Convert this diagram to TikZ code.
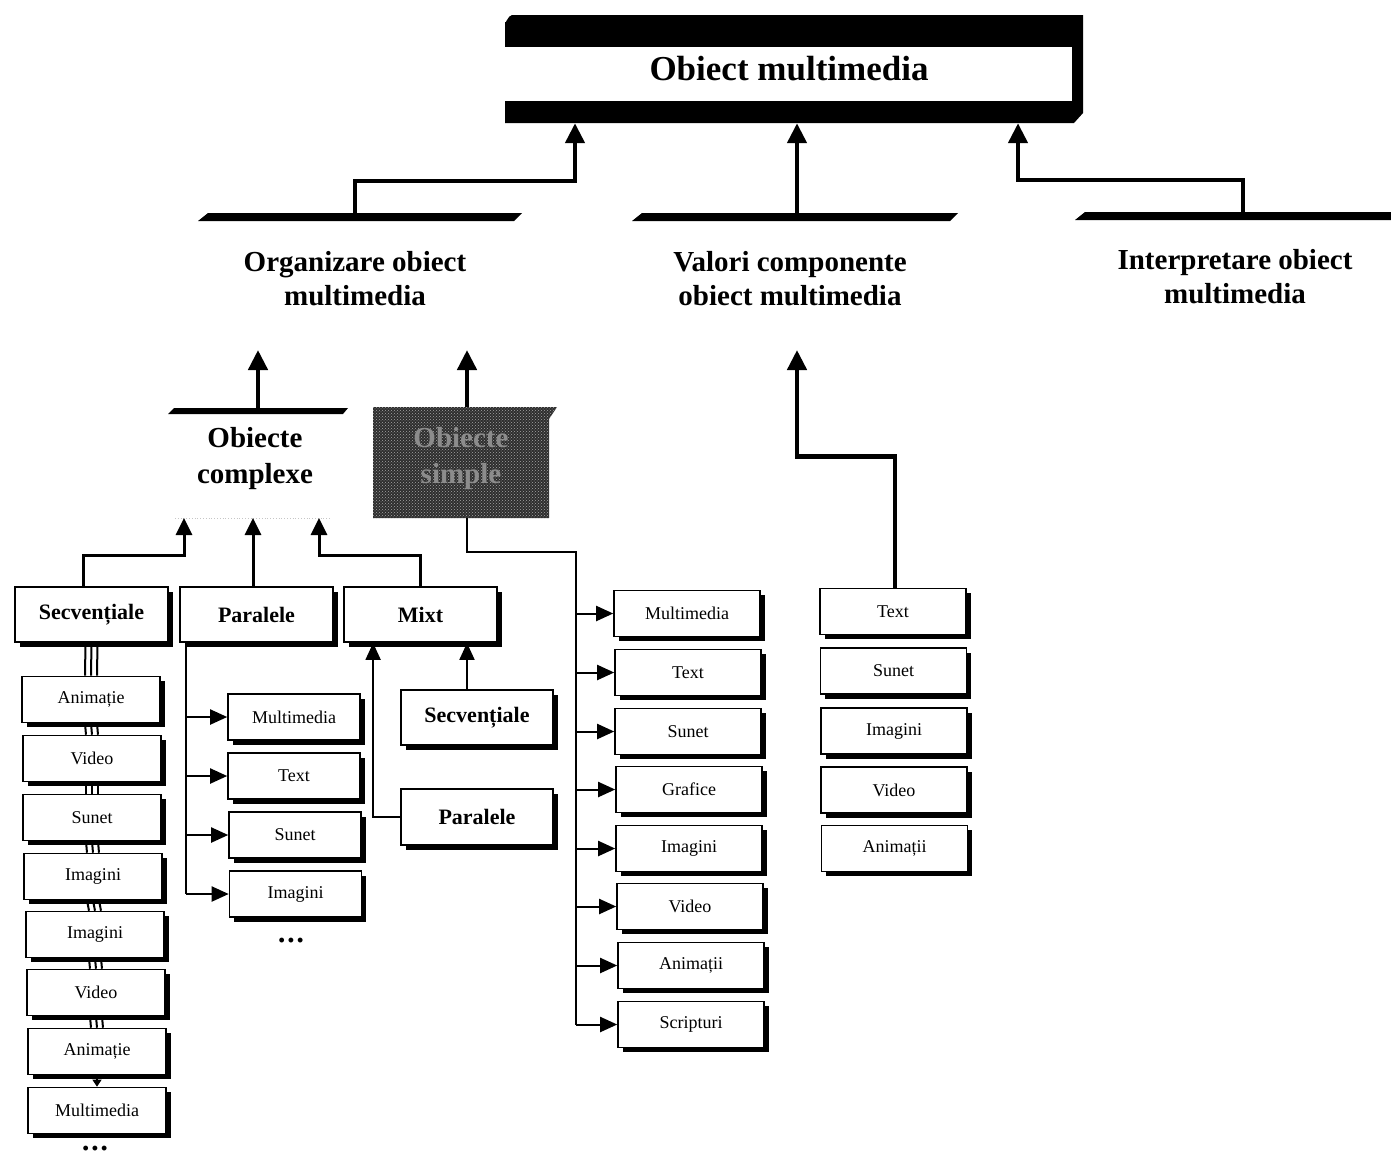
\documentclass[tikz,border=0pt]{standalone}
\usepackage{fontspec}
\setmainfont{Liberation Serif}
\usetikzlibrary{arrows.meta,shadows,patterns}
\begin{document}
\begin{tikzpicture}[x=1pt,y=-1pt,
  every node/.style={inner sep=0pt},
  shad/.style={drop shadow={shadow xshift=4.5pt,shadow yshift=-4.5pt,fill=black,opacity=1}},
  hdr/.style={font=\bfseries\fontsize{29}{34}\selectfont,align=center},
  lvl/.style={draw,line width=1.8pt,fill=white,minimum width=153pt,minimum height=55pt,
    font=\bfseries\fontsize{22}{24}\selectfont,shad},
  item/.style={draw,line width=1.6pt,fill=white,minimum width=#1,minimum height=46pt,
    font=\fontsize{18}{20}\selectfont,shad},
  item/.default=140pt,
  bigarr/.style={line width=4.5pt,-{Triangle[length=20pt,width=19pt]}},
  midarr/.style={line width=3pt,-{Triangle[length=17pt,width=16pt]}},
  smlarr/.style={line width=2pt,-{Triangle[length=17pt,width=15pt]}},
  wire/.style={line width=2pt},
  bar/.style={fill=black},
  dots/.style={font=\bfseries\fontsize{18}{18}\selectfont}
]
\useasboundingbox (0,0) rectangle (1391,1162);

% ---- root box: black bands with an open left side ----
\fill (505,22) to[out=-90,in=180] (512,15) -- (1083,15) -- (1083,113) -- (1074,123) -- (505,123) -- cycle;
\fill[white] (505,47) rectangle (1072,101);
\node[minimum width=578pt,minimum height=108pt] (omb) at (794,69) {};
\node[font=\bfseries\fontsize{35}{40}\selectfont] (om) at (789,69) {Obiect multimedia};

% ---- second level headings with their bars ----
\fill[bar] (198,221) -- (208,213) -- (522,213) -- (514,221) -- cycle;
\fill[bar] (632,221) -- (642,213) -- (958,213) -- (950,221) -- cycle;
\fill[bar] (1075,220) -- (1085,212) -- (1391,212) -- (1391,220) -- cycle;
\coordinate (orgTop) at (355,213);
\coordinate (valTop) at (797,213);
\coordinate (intTop) at (1243,212);
\node[hdr] (org) at (355,279) {Organizare obiect\\multimedia};
\node[hdr] (val) at (790,279) {Valori componente\\obiect multimedia};
\node[hdr] (int) at (1235,277) {Interpretare obiect\\multimedia};

\draw[bigarr] (orgTop) -- ++(0,-32) -| ([xshift=-219pt]omb.south);
\draw[bigarr] (valTop) -- ([xshift=3pt]omb.south);
\draw[bigarr] (intTop) -- ++(0,-32) -| ([xshift=224pt]omb.south);

% ---- complex / simple objects ----
\fill[bar] (168,414) -- (174,408) -- (348,408) -- (343,414) -- cycle;
\draw[gray!45,line width=0.8pt,dotted] (175,518) -- (330,518);
\node[font=\bfseries\fontsize{29}{36}\selectfont,align=center] (cpx) at (255,459) {Obiecte\\complexe};
\coordinate (cpxTop) at (258,410);

\fill[black!82] (373,407) -- (557,407) -- (549,419) -- (549,518) -- (373,518) -- cycle;
\fill[pattern=crosshatch dots,pattern color=gray!70] (373,407) -- (557,407) -- (549,419) -- (549,518) -- (373,518) -- cycle;
\node[font=\bfseries\fontsize{29}{36}\selectfont,align=center,text=black!45] (sim) at (461,459) {Obiecte\\simple};
\coordinate (simTop) at (467,407);
\coordinate (simBot) at (467,518);

\coordinate (orgInA) at (258,350);
\coordinate (orgInB) at (467,350);
\coordinate (valIn) at (797,350);
\draw[bigarr] (cpxTop) -- (orgInA);
\draw[bigarr] (simTop) -- (orgInB);

% ---- kinds of complex objects ----
\node[lvl] (sec) at (91.5,614.5) {Secvențiale};
\node[lvl] (par) at (256.5,614.5) {Paralele};
\node[lvl] (mix) at (420.5,614.5) {Mixt};

\coordinate (cpxIn1) at (184,518);
\coordinate (cpxIn2) at (253,518);
\coordinate (cpxIn3) at (319,518);
\draw[midarr] ([xshift=-8pt]sec.north) -- ++(0,-31) -| (cpxIn1);
\draw[midarr] (cpxIn2 |- par.north) -- (cpxIn2);
\draw[midarr] (mix.north) -- ++(0,-31) -| (cpxIn3);

% ---- sequential chain ----
\node[item=138pt] (a1) at (91,699.5) {Animație};
\node[item=138pt] (v1) at (92,758.5) {Video};
\node[item=138pt] (s1) at (92,817.5) {Sunet};
\node[item=138pt] (i1) at (93,876.5) {Imagini};
\node[item=138pt] (i2) at (95,934.5) {Imagini};
\node[item=138pt] (v2) at (96,992.5) {Video};
\node[item=138pt] (a2) at (97,1051.5) {Animație};
\node[item=138pt] (m1) at (97,1110.5) {Multimedia};
\node[dots] (sdots) at (95,1150) {•\,•\,•};

\foreach \d in {-6,0,6}
  \draw[line width=2pt] ([xshift=\d pt]sec.south) -- ([xshift=\d pt]a1.north);
\foreach \u/\w in {a1/v1,v1/s1,s1/i1,i1/i2,i2/v2,v2/a2}
  \foreach \d in {-6,0,6}
    \draw[line width=2pt] ([xshift=\d pt]\u.south) -- ([xshift=\d pt]\w.north);
\draw[line width=1.2pt,-{Triangle[length=7pt,width=9pt]}] (a2.south) -- (m1.north);

% ---- parallel branch ----
\node[item=132pt] (pm) at (294,717) {Multimedia};
\node[item=132pt] (pt) at (294,776) {Text};
\node[item=132pt] (ps) at (295,835) {Sunet};
\node[item=132pt] (pi) at (295.5,894) {Imagini};
\node[dots] (pdots) at (291,942) {•\,•\,•};
\coordinate (pl) at ([xshift=7pt]par.south west);
\draw[wire] (pl) -- (pl |- pi.west);
\foreach \n in {pm,pt,ps,pi}
  \draw[smlarr] (pl |- \n.west) -- (\n.west);

% ---- mixed branch ----
\node[lvl,minimum width=152pt] (ms) at (477,717.5) {Secvențiale};
\node[lvl,minimum width=152pt,minimum height=56pt] (mp) at (477,817) {Paralele};
\coordinate (msT) at ([xshift=-10pt]ms.north);
\draw[smlarr] (msT) -- (msT |- mix.south);
\coordinate (mxL) at ([xshift=30pt]mix.south west);
\draw[smlarr] (mp.west) -| (mxL);

% ---- simple objects ----
\node[item=146pt] (r1) at (687,613.5) {Multimedia};
\node[item=146pt] (r2) at (688,672.5) {Text};
\node[item=146pt] (r3) at (688,731.5) {Sunet};
\node[item=146pt] (r4) at (689,789.5) {Grafice};
\node[item=146pt] (r5) at (689,848.5) {Imagini};
\node[item=146pt] (r6) at (690,906.5) {Video};
\node[item=146pt] (r7) at (691,965.5) {Animații};
\node[item=146pt] (r8) at (691,1024.5) {Scripturi};
\coordinate (spine) at (576,552);
\draw[wire] (simBot) |- (spine) -- (spine |- r8.west);
\foreach \n in {r1,r2,r3,r4,r5,r6,r7,r8}
  \draw[smlarr] (spine |- \n.west) -- (\n.west);

% ---- component values ----
\node[item=146pt] (t1) at (893,611.5) {Text};
\node[item=146pt] (t2) at (893.5,671) {Sunet};
\node[item=146pt] (t3) at (894,731) {Imagini};
\node[item=146pt] (t4) at (894,790) {Video};
\node[item=146pt] (t5) at (894.5,848.5) {Animații};
\draw[bigarr] ([xshift=2pt]t1.north) -- ++(0,-131) -| (valIn);
\end{tikzpicture}
\end{document}
